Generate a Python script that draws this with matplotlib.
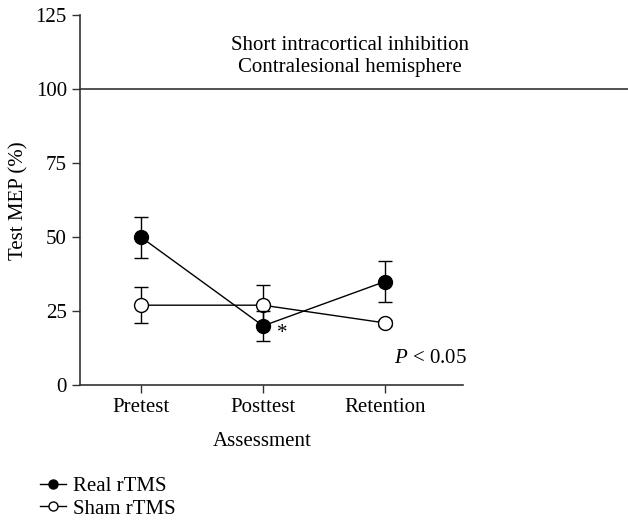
import matplotlib.pyplot as plt
from matplotlib.lines import Line2D

# Data
sessions = ['Pretest', 'Posttest', 'Retention']
real_mean = [50, 20, 35]
real_err = [7, 5, 7]
sham_mean = [27, 27, 21]
sham_err = [6, 7, 1]

plt.rcParams['font.family'] = ['Liberation Serif', 'DejaVu Serif']
plt.rcParams['font.size'] = 15
plt.rcParams['mathtext.fontset'] = 'custom'
plt.rcParams['mathtext.it'] = 'Liberation Serif:italic'
plt.rcParams['mathtext.rm'] = 'Liberation Serif'

fig = plt.figure(figsize=(6.28, 5.2), dpi=100)
ax = fig.add_axes([0.1274, 0.2596, 0.610, 0.7106])

x = list(range(len(sessions)))

# Sham rTMS (open circles)
ax.errorbar(x, sham_mean, yerr=sham_err, color='black', lw=1, marker='o',
            markersize=10, markerfacecolor='white', markeredgecolor='black',
            markeredgewidth=1, capsize=5, elinewidth=1, capthick=1, zorder=3)
# Real rTMS (filled circles)
ax.errorbar(x, real_mean, yerr=real_err, color='black', lw=1, marker='o',
            markersize=10, markerfacecolor='black', markeredgecolor='black',
            capsize=5, elinewidth=1, capthick=1, zorder=4)

# reference line at 100 reaching past the axes
ax.axhline(100, xmin=0, xmax=(628 - 80) / 383, color='#333333', lw=1.2, clip_on=False)

ax.set_xlim(-0.5, 2.64)
ax.set_ylim(0, 125)
ax.set_yticks([0, 25, 50, 75, 100, 125])
ax.set_xticks(x)
ax.set_xticklabels(sessions)
ax.set_ylabel('Test MEP (%)')
ax.yaxis.set_label_coords(-0.135, 0.5)
ax.set_xlabel('Assessment')
ax.xaxis.set_label_coords(0.475, -0.128)

for s in ['top', 'right']:
    ax.spines[s].set_visible(False)
for s in ['left', 'bottom']:
    ax.spines[s].set_color('#333333')
    ax.spines[s].set_linewidth(1.2)
ax.tick_params(direction='out', length=6, width=1, color='#333333', labelsize=15)

ax.text(0.705, 0.945, 'Short intracortical inhibition\nContralesional hemisphere',
        transform=ax.transAxes, ha='center', va='top', fontsize=15, linespacing=1.25)
ax.text(1.16, 17.5, '*', ha='center', va='center', fontsize=15)
ax.text(1.01, 9, r'$P$ < 0.05', transform=ax.get_yaxis_transform(), ha='right',
        va='center', fontsize=15)

handles = [
    Line2D([], [], color='black', lw=1, marker='o', markersize=6.5,
           markerfacecolor='black'),
    Line2D([], [], color='black', lw=1, marker='o', markersize=6.5,
           markerfacecolor='white'),
]
fig.legend(handles, ['Real rTMS', 'Sham rTMS'], loc='upper left',
           bbox_to_anchor=(0.051, 0.1), frameon=False, fontsize=15,
           handlelength=1.25, handletextpad=0.3, labelspacing=0.15, borderaxespad=0)

fig.savefig('out.png', dpi=100)
